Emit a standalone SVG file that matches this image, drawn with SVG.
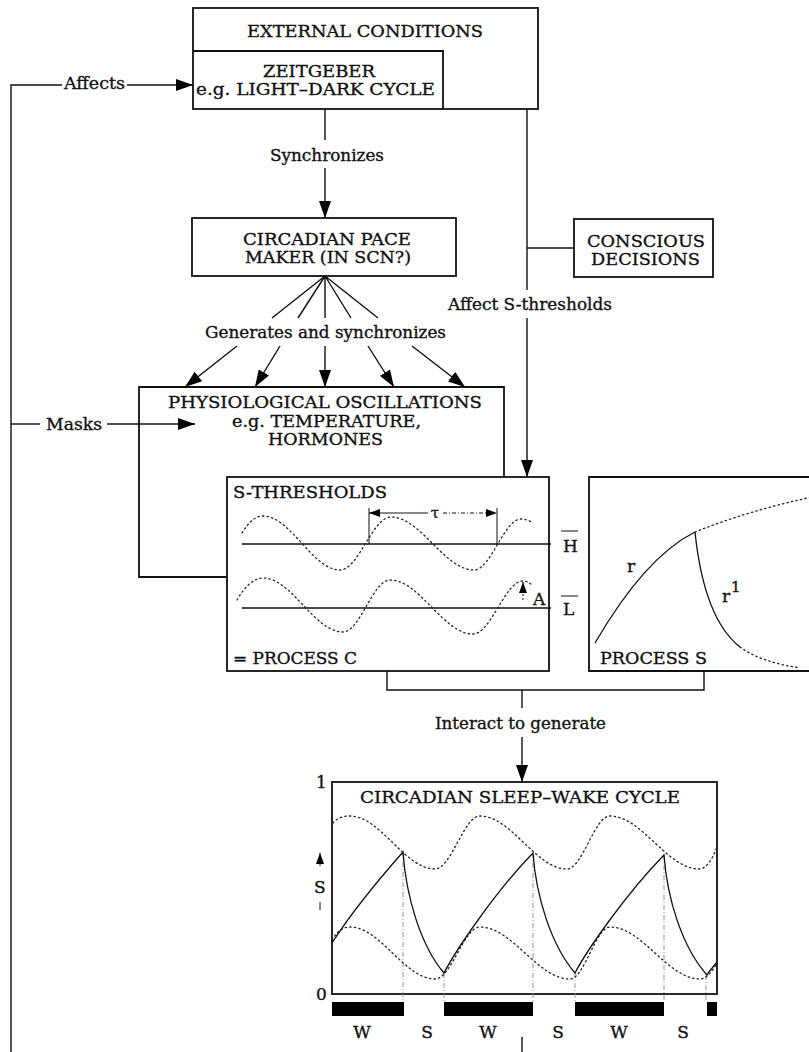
<svg xmlns="http://www.w3.org/2000/svg" width="809" height="1052" viewBox="0 0 809 1052">
<style>
.t{font-family:"DejaVu Serif","Liberation Serif",serif;font-size:17px;fill:#111;stroke:#111;stroke-width:0.35}
.tm{font-family:"DejaVu Serif","Liberation Serif",serif;font-size:15px;fill:#111;stroke:#111;stroke-width:0.3}
.box{fill:none;stroke:#111;stroke-width:1.8}
.ln{fill:none;stroke:#111;stroke-width:1.4}
.thin{fill:none;stroke:#111;stroke-width:1}
.dot{fill:none;stroke:#222;stroke-width:1.3;stroke-dasharray:1.4 3.2;stroke-linecap:round}
.cur{fill:none;stroke:#111;stroke-width:1.3}
.drop{fill:none;stroke:#888;stroke-width:0.9;stroke-dasharray:5 2 1 2}
.bar{fill:#000}
</style>
<defs>
<marker id="ah" markerWidth="17" markerHeight="12" refX="17" refY="6" orient="auto" markerUnits="userSpaceOnUse"><path d="M0,0 L17,6 L0,12 z" fill="#000"/></marker>
<marker id="sa" markerWidth="11" markerHeight="8" refX="11" refY="4" orient="auto" markerUnits="userSpaceOnUse"><path d="M0,0 L11,4 L0,8 z" fill="#000"/></marker>
</defs>
<rect width="809" height="1052" fill="#fff"/>

<g id="external-conditions">
<rect class="box" x="193" y="8" width="345" height="101"/>
<text class="t" x="247" y="37" textLength="236" lengthAdjust="spacingAndGlyphs">EXTERNAL CONDITIONS</text>
</g>
<g id="zeitgeber">
<path class="box" d="M193,51 H443 V109"/>
<text class="t" x="263" y="77" textLength="112" lengthAdjust="spacingAndGlyphs">ZEITGEBER</text>
<text class="t" x="196" y="95" textLength="239" lengthAdjust="spacingAndGlyphs">e.g. LIGHT–DARK CYCLE</text>
</g>
<g id="circadian-pacemaker">
<rect class="box" x="192" y="218" width="264" height="58"/>
<text class="t" x="243" y="245" textLength="168" lengthAdjust="spacingAndGlyphs">CIRCADIAN PACE</text>
<text class="t" x="245" y="263" textLength="166" lengthAdjust="spacingAndGlyphs">MAKER (IN SCN?)</text>
</g>
<g id="conscious-decisions">
<rect class="box" x="574" y="219" width="139" height="58"/>
<text class="t" x="587" y="247" textLength="118" lengthAdjust="spacingAndGlyphs">CONSCIOUS</text>
<text class="t" x="591" y="265" textLength="109" lengthAdjust="spacingAndGlyphs">DECISIONS</text>
</g>
<g id="physiological-oscillations">
<path class="box" d="M227,577 H139 V387 H504 V477"/>
<text class="t" x="168" y="408" textLength="314" lengthAdjust="spacingAndGlyphs">PHYSIOLOGICAL OSCILLATIONS</text>
<text class="t" x="232" y="427" textLength="189" lengthAdjust="spacingAndGlyphs">e.g. TEMPERATURE,</text>
<text class="t" x="268" y="445" textLength="115" lengthAdjust="spacingAndGlyphs">HORMONES</text>
</g>
<g id="s-thresholds">
<rect class="box" x="227" y="477" width="322" height="194" fill="#fff"/>
<text class="t" x="233" y="498" textLength="154" lengthAdjust="spacingAndGlyphs">S-THRESHOLDS</text>
<line class="ln" x1="242" y1="544" x2="551" y2="544"/>
<line class="ln" x1="242" y1="608" x2="551" y2="608"/>
<path class="dot" d="M242,533 C249,522 255,516 263,516 C290.7,516 312.3,570 340,570 C358.4,570 372.6,517 391,517 C420.9,517 444.1,570 474,570 C490.9,570 504.1,519 521,519 C526,519 530,521 533,523"/>
<path class="dot" d="M237,600 C245,586 254,578 263,578 C291.8,578 314.2,632 343,632 C359.9,632 373.1,580 390,580 C419.9,580 443.1,634 473,634 C491,634 505,581 523,581 C527,581 530,583 533,586"/>
<line class="thin" x1="369" y1="508" x2="369" y2="544"/>
<line class="thin" x1="497" y1="508" x2="497" y2="545"/>
<line class="thin" x1="428" y1="513" x2="369" y2="513" marker-end="url(#sa)"/>
<line class="thin" x1="443" y1="513" x2="497" y2="513" stroke-dasharray="4 2 1 2" marker-end="url(#sa)"/>
<text class="tm" x="435" y="518" text-anchor="middle">τ</text>
<line class="thin" x1="523" y1="600" x2="523" y2="582" stroke-dasharray="2 2" marker-end="url(#sa)"/>
<text class="t" x="533" y="605">A</text>
<line class="thin" x1="561" y1="531" x2="578" y2="531"/>
<text class="t" x="563" y="552">H</text>
<line class="thin" x1="561" y1="596" x2="578" y2="596"/>
<text class="t" x="563" y="615">L</text>
<text class="t" x="233" y="664" textLength="124" lengthAdjust="spacingAndGlyphs">= PROCESS C</text>
</g>
<g id="process-s">
<path class="box" d="M815,477 H589 V671 H815"/>
<path class="cur" d="M595,643 C620,600 655,552 695,532"/>
<path class="dot" d="M695,532 C730,518 770,506 812,497"/>
<path class="cur" d="M695,532 C700,580 712,625 740,647"/>
<path class="dot" d="M740,647 C755,658 775,664 800,668"/>
<text class="t" x="627" y="572">r</text>
<text class="t" x="722" y="602">r</text>
<text class="tm" x="731" y="592" font-size="11">1</text>
<text class="t" x="600" y="664" textLength="107" lengthAdjust="spacingAndGlyphs">PROCESS S</text>
</g>
<g id="sleep-wake-cycle">
<rect class="box" x="332" y="782" width="385" height="212"/>
<text class="t" x="360" y="803" textLength="320" lengthAdjust="spacingAndGlyphs">CIRCADIAN SLEEP–WAKE CYCLE</text>
<text class="t" x="316" y="788">1</text>
<text class="t" x="316" y="1000">0</text>
<line class="thin" x1="320" y1="866" x2="320" y2="853" marker-end="url(#sa)"/>
<text class="t" x="314" y="893">S</text>
<line class="thin" x1="320" y1="902" x2="320" y2="910"/>
<path class="drop" d="M403,852 V1002 M444,973 V1002 M533,853 V1002 M575,973 V1002 M664,855 V1002 M706,975 V1002"/>
<path class="dot" d="M333,823 C338,817 344,816 350,816 C380.6,816 404.4,869 435,869 C451.2,869 463.8,816 480,816 C511.3,816 535.7,869 567,869 C582.5,869 594.5,816 610,816 C642,816 667,869 699,869 C706,869 712,860 717,847"/>
<path class="dot" d="M332,940 C338,930 344,927 350,927 C380.6,927 404.4,979 435,979 C451.2,979 463.8,927 480,927 C512.4,927 537.6,979 570,979 C584.4,979 595.6,927 610,927 C642.4,927 667.6,979 700,979 C706,979 712,972 717,963"/>
<path class="cur" d="M332,943 C350,915 380,878 403,852 C406,895 420,945 444,973 C456,950 495,892 533,853 C536,896 551,945 575,973 C587,950 626,894 664,855 C667,898 682,947 707,975 C710,970 714,966 717,962"/>
<rect class="bar" x="332" y="1002" width="72" height="14"/>
<rect class="bar" x="444" y="1002" width="89" height="14"/>
<rect class="bar" x="575" y="1002" width="89" height="14"/>
<rect class="bar" x="707" y="1002" width="10" height="14"/>
<g class="t" text-anchor="middle">
<text x="362" y="1038">W</text>
<text x="427" y="1038">S</text>
<text x="488" y="1038">W</text>
<text x="558" y="1038">S</text>
<text x="619" y="1038">W</text>
<text x="683" y="1038">S</text>
</g>
</g>

<g id="connectors">
<path class="ln" d="M11,1052 V85 H62"/>
<line class="ln" x1="127" y1="85" x2="193" y2="85" marker-end="url(#ah)"/>
<text class="t" x="64" y="89" textLength="61" lengthAdjust="spacingAndGlyphs">Affects</text>
<line class="ln" x1="11" y1="424" x2="40" y2="424"/>
<text class="t" x="46" y="430" textLength="56" lengthAdjust="spacingAndGlyphs">Masks</text>
<line class="ln" x1="107" y1="424" x2="195" y2="424" marker-end="url(#ah)"/>
<line class="ln" x1="325" y1="109" x2="325" y2="140"/>
<text class="t" x="270" y="161" textLength="114" lengthAdjust="spacingAndGlyphs">Synchronizes</text>
<line class="ln" x1="325" y1="168" x2="325" y2="218" marker-end="url(#ah)"/>
<path class="ln" d="M272,318 L325,276 L298,318 M325,276 L325,318 M325,276 L351,318 M325,276 L378,318"/>
<text class="t" x="205" y="338" textLength="241" lengthAdjust="spacingAndGlyphs">Generates and synchronizes</text>
<line class="ln" x1="237" y1="346" x2="185" y2="387" marker-end="url(#ah)"/>
<line class="ln" x1="280" y1="346" x2="255" y2="387" marker-end="url(#ah)"/>
<line class="ln" x1="325" y1="346" x2="325" y2="387" marker-end="url(#ah)"/>
<line class="ln" x1="368" y1="346" x2="394" y2="387" marker-end="url(#ah)"/>
<line class="ln" x1="412" y1="346" x2="465" y2="387" marker-end="url(#ah)"/>
<line class="ln" x1="527" y1="109" x2="527" y2="290"/>
<line class="ln" x1="527" y1="248" x2="574" y2="248"/>
<text class="t" x="448" y="310" textLength="164" lengthAdjust="spacingAndGlyphs">Affect S-thresholds</text>
<line class="ln" x1="527" y1="318" x2="527" y2="477" marker-end="url(#ah)"/>
<path class="ln" d="M387,671 V690 H704 V671 M522,690 V708"/>
<text class="t" x="435" y="729" textLength="171" lengthAdjust="spacingAndGlyphs">Interact to generate</text>
<line class="ln" x1="522" y1="737" x2="522" y2="782" marker-end="url(#ah)"/>
<line class="ln" x1="522" y1="1037" x2="522" y2="1052"/>
</g>
</svg>
